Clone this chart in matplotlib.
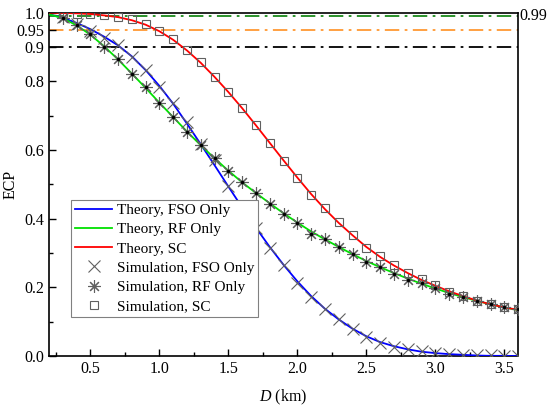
import matplotlib
matplotlib.use('Agg')
import matplotlib.pyplot as plt
from matplotlib.ticker import MultipleLocator, FixedLocator

# distance D (km)
d_theory = [0.2, 0.3, 0.4, 0.5, 0.6, 0.7, 0.8, 0.9, 1.0, 1.1, 1.2, 1.3, 1.4, 1.5, 1.6, 1.7, 1.8,
            1.9, 2.0, 2.1, 2.2, 2.3, 2.4, 2.5, 2.6, 2.7, 2.8, 2.9, 3.0, 3.1, 3.2, 3.3, 3.4, 3.5, 3.6]
d_sim = d_theory[1:]

fso_theory = [0.995, 0.985, 0.970, 0.952, 0.930, 0.905, 0.873, 0.833, 0.787, 0.735, 0.677, 0.617,
              0.556, 0.494, 0.433, 0.374, 0.318, 0.266, 0.218, 0.175, 0.138, 0.107, 0.080, 0.058,
              0.041, 0.029, 0.020, 0.013, 0.009, 0.006, 0.004, 0.002, 0.001, 0.001, 0.0005]
rf_theory = [0.995, 0.984, 0.963, 0.936, 0.902, 0.864, 0.823, 0.781, 0.738, 0.696, 0.654, 0.614,
             0.576, 0.540, 0.506, 0.475, 0.445, 0.416, 0.389, 0.363, 0.340, 0.318, 0.297, 0.277,
             0.259, 0.242, 0.226, 0.211, 0.197, 0.184, 0.172, 0.161, 0.151, 0.142, 0.134]
sc_theory = [1.0, 0.999, 0.998, 0.996, 0.992, 0.987, 0.978, 0.965, 0.946, 0.921, 0.890, 0.854,
             0.813, 0.769, 0.722, 0.672, 0.621, 0.570, 0.520, 0.472, 0.428, 0.388, 0.352, 0.318,
             0.289, 0.264, 0.242, 0.222, 0.205, 0.189, 0.175, 0.162, 0.151, 0.142, 0.135]

fso_sim = [0.988, 0.967, 0.948, 0.926, 0.905, 0.871, 0.833, 0.784, 0.736, 0.682, 0.617, 0.570,
           0.496, 0.435, 0.372, 0.316, 0.265, 0.214, 0.173, 0.136, 0.107, 0.079, 0.055, 0.039,
           0.028, 0.020, 0.014, 0.009, 0.006, 0.004, 0.003, 0.002, 0.001, 0.001]
rf_sim = [0.985, 0.964, 0.937, 0.900, 0.864, 0.821, 0.784, 0.736, 0.697, 0.653, 0.614, 0.576,
          0.539, 0.506, 0.476, 0.444, 0.414, 0.388, 0.355, 0.341, 0.317, 0.297, 0.275, 0.260,
          0.240, 0.223, 0.212, 0.198, 0.182, 0.173, 0.160, 0.151, 0.143, 0.136]
sc_sim = [0.999, 0.997, 0.995, 0.993, 0.988, 0.981, 0.966, 0.946, 0.922, 0.891, 0.855, 0.813,
          0.769, 0.723, 0.672, 0.621, 0.569, 0.520, 0.469, 0.432, 0.390, 0.352, 0.316, 0.291,
          0.265, 0.242, 0.224, 0.207, 0.188, 0.176, 0.161, 0.151, 0.144, 0.137]

thresholds = [0.99, 0.95, 0.9]
threshold_colors = ['#1a8a1a', '#ff9933', 'black']

y_ticks = [0.0, 0.2, 0.4, 0.6, 0.8, 0.9, 0.95, 1.0]
y_labels = ['0.0', '0.2', '0.4', '0.6', '0.8', '0.9', '0.95', '1.0']

plt.rcParams['font.family'] = ['Liberation Serif', 'DejaVu Serif']
plt.rcParams['font.size'] = 11
plt.rcParams['mathtext.fontset'] = 'custom'
plt.rcParams['mathtext.it'] = 'Liberation Serif:italic'
plt.rcParams['mathtext.rm'] = 'Liberation Serif'

fig = plt.figure(figsize=(5.5, 4.08), dpi=100)
ax = fig.add_axes([0.089, 0.127, 0.853, 0.842])

for t, c in zip(thresholds, threshold_colors):
  ax.axhline(t, color=c, lw=1.3, ls=(0, (8, 3, 1.5, 3)), zorder=1)

ax.plot(d_theory, fso_theory, color='#0000ff', lw=1.3, label='Theory, FSO Only', zorder=3)
ax.plot(d_theory, rf_theory, color='#00e000', lw=1.3, label='Theory, RF Only', zorder=3)
ax.plot(d_theory, sc_theory, color='#ff0000', lw=1.3, label='Theory, SC', zorder=3)

gray = '#606060'
ax.plot(d_sim, fso_sim, ls='none', marker='x', ms=8, mew=0.8, color=gray,
        label='Simulation, FSO Only', zorder=4)
ax.plot(d_sim, rf_sim, ls='none', marker=(8, 2, 0), ms=9, mew=0.8, color=gray,
        label='Simulation, RF Only', zorder=4)
ax.plot(d_sim, rf_sim, ls='none', marker='.', ms=3, color='black', zorder=5)
ax.plot(d_sim, sc_sim, ls='none', marker='s', ms=6, mew=0.8, mfc='none', mec=gray,
        label='Simulation, SC', zorder=4)

ax.set_xlim(0.2, 3.6)
ax.set_ylim(0.0, 1.0)
ax.xaxis.set_major_locator(MultipleLocator(0.5))
ax.xaxis.set_minor_locator(MultipleLocator(0.25))
ax.yaxis.set_major_locator(FixedLocator(y_ticks))
ax.set_yticklabels(y_labels)
ax.yaxis.set_minor_locator(FixedLocator([0.1, 0.3, 0.5, 0.7]))
ax.tick_params(which='both', direction='in', top=False, right=False, labelsize=11.5)
ax.tick_params(which='major', length=5, width=1.0)
ax.tick_params(which='minor', length=3, width=1.0)
for s in ax.spines.values():
  s.set_linewidth(1.2)

ax.text(1.003, 0.99, '0.99', transform=ax.get_yaxis_transform(), va='center', ha='left',
        fontsize=11.5)

ax.set_xlabel(r'$\mathit{D}$ (km)', labelpad=8, fontsize=11.5)
ax.set_ylabel('ECP', fontsize=11.5)
ax.yaxis.set_label_coords(-0.064, 0.5)

leg = ax.legend(loc='lower left', bbox_to_anchor=(0.048, 0.114), borderaxespad=0,
                fancybox=False, framealpha=1, edgecolor='#808080', handlelength=2.4,
                labelspacing=0.36, borderpad=0.25, handletextpad=0.3)
leg.get_frame().set_linewidth(0.8)

fig.savefig('out.png', dpi=100)
